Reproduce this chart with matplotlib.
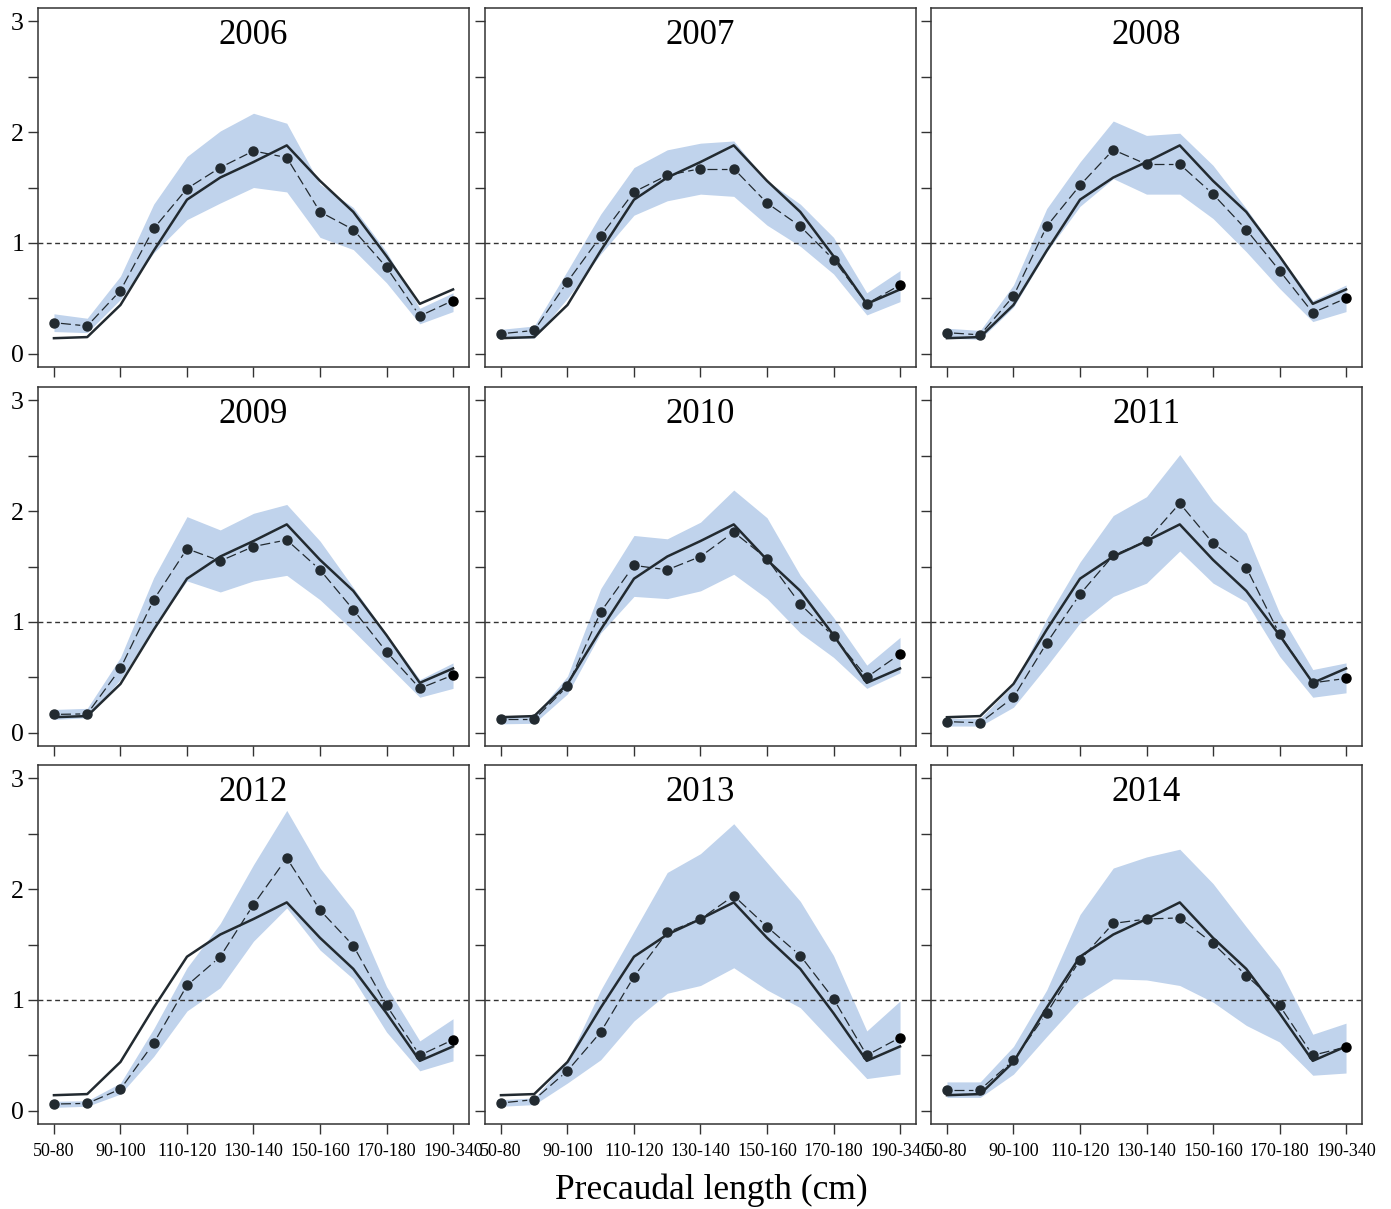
import numpy as np
import matplotlib
matplotlib.use("Agg")
import matplotlib.pyplot as plt
from matplotlib.transforms import ScaledTranslation

plt.rcParams["font.family"] = ["Liberation Serif", "DejaVu Serif"]

length_classes = ["50-80", "80-90", "90-100", "100-110", "110-120", "120-130",
                  "130-140", "140-150", "150-160", "160-170", "170-180",
                  "180-190", "190-340"]

years = [2006, 2007, 2008, 2009, 2010, 2011, 2012, 2013, 2014]

# fitted curve (same in every panel)
model = [0.14, 0.15, 0.44, 0.93, 1.39, 1.59, 1.73, 1.88, 1.56, 1.28, 0.88, 0.45, 0.58]

obs_2006 = [0.28, 0.25, 0.57, 1.13, 1.49, 1.68, 1.83, 1.77, 1.28, 1.12, 0.78, 0.34, 0.48]
hi_2006 = [0.36, 0.32, 0.70, 1.35, 1.78, 2.01, 2.17, 2.08, 1.53, 1.32, 0.92, 0.41, 0.55]
lo_2006 = [0.20, 0.19, 0.49, 0.91, 1.21, 1.36, 1.50, 1.46, 1.05, 0.94, 0.64, 0.27, 0.38]

obs_2007 = [0.18, 0.21, 0.65, 1.06, 1.46, 1.61, 1.67, 1.67, 1.36, 1.15, 0.85, 0.45, 0.62]
hi_2007 = [0.22, 0.25, 0.75, 1.26, 1.68, 1.84, 1.90, 1.92, 1.56, 1.35, 1.05, 0.55, 0.75]
lo_2007 = [0.14, 0.14, 0.50, 0.90, 1.25, 1.38, 1.44, 1.42, 1.16, 0.97, 0.72, 0.35, 0.47]

obs_2008 = [0.19, 0.17, 0.52, 1.15, 1.52, 1.84, 1.71, 1.71, 1.44, 1.12, 0.75, 0.37, 0.50]
hi_2008 = [0.23, 0.21, 0.62, 1.31, 1.73, 2.10, 1.97, 1.99, 1.70, 1.31, 0.89, 0.48, 0.62]
lo_2008 = [0.14, 0.13, 0.42, 0.92, 1.33, 1.58, 1.44, 1.44, 1.22, 0.92, 0.59, 0.29, 0.38]

obs_2009 = [0.165, 0.17, 0.58, 1.20, 1.66, 1.55, 1.68, 1.74, 1.47, 1.11, 0.73, 0.40, 0.52]
hi_2009 = [0.21, 0.22, 0.68, 1.40, 1.95, 1.83, 1.98, 2.06, 1.73, 1.31, 0.89, 0.48, 0.63]
lo_2009 = [0.12, 0.135, 0.48, 0.95, 1.37, 1.27, 1.37, 1.42, 1.20, 0.92, 0.62, 0.32, 0.40]

obs_2010 = [0.12, 0.12, 0.42, 1.09, 1.51, 1.47, 1.59, 1.81, 1.57, 1.16, 0.87, 0.50, 0.71]
hi_2010 = [0.15, 0.15, 0.51, 1.30, 1.78, 1.75, 1.90, 2.19, 1.94, 1.42, 1.04, 0.61, 0.86]
lo_2010 = [0.08, 0.085, 0.35, 0.90, 1.23, 1.21, 1.28, 1.43, 1.21, 0.90, 0.68, 0.40, 0.54]

obs_2011 = [0.10, 0.09, 0.32, 0.81, 1.25, 1.60, 1.73, 2.07, 1.71, 1.49, 0.89, 0.45, 0.49]
hi_2011 = [0.13, 0.13, 0.43, 1.03, 1.54, 1.96, 2.13, 2.51, 2.09, 1.80, 1.08, 0.57, 0.63]
lo_2011 = [0.06, 0.06, 0.23, 0.60, 0.99, 1.23, 1.35, 1.64, 1.35, 1.18, 0.69, 0.32, 0.36]

obs_2012 = [0.06, 0.066, 0.195, 0.61, 1.13, 1.39, 1.86, 2.28, 1.81, 1.49, 0.95, 0.50, 0.64]
hi_2012 = [0.085, 0.09, 0.25, 0.74, 1.29, 1.69, 2.22, 2.71, 2.19, 1.81, 1.12, 0.63, 0.83]
lo_2012 = [0.03, 0.04, 0.15, 0.49, 0.90, 1.11, 1.53, 1.83, 1.45, 1.19, 0.71, 0.36, 0.45]

obs_2013 = [0.07, 0.10, 0.36, 0.71, 1.21, 1.61, 1.73, 1.94, 1.66, 1.40, 1.01, 0.50, 0.66]
hi_2013 = [0.10, 0.115, 0.45, 1.09, 1.62, 2.15, 2.32, 2.59, 2.24, 1.89, 1.40, 0.72, 0.99]
lo_2013 = [0.04, 0.055, 0.25, 0.46, 0.81, 1.06, 1.13, 1.29, 1.09, 0.93, 0.61, 0.29, 0.33]

obs_2014 = [0.19, 0.19, 0.455, 0.88, 1.36, 1.69, 1.73, 1.74, 1.51, 1.22, 0.95, 0.50, 0.575]
hi_2014 = [0.26, 0.26, 0.58, 1.09, 1.77, 2.19, 2.29, 2.36, 2.05, 1.66, 1.28, 0.69, 0.79]
lo_2014 = [0.12, 0.12, 0.33, 0.67, 1.00, 1.19, 1.18, 1.13, 0.98, 0.77, 0.62, 0.32, 0.34]

observed = [obs_2006, obs_2007, obs_2008, obs_2009, obs_2010, obs_2011, obs_2012, obs_2013, obs_2014]
upper = [hi_2006, hi_2007, hi_2008, hi_2009, hi_2010, hi_2011, hi_2012, hi_2013, hi_2014]
lower = [lo_2006, lo_2007, lo_2008, lo_2009, lo_2010, lo_2011, lo_2012, lo_2013, lo_2014]

W, H = 1391, 1209
fig = plt.figure(figsize=(W / 100, H / 100), dpi=100)

col_left = [38, 485, 931]
row_top = [8, 387, 765]
box_w = 431
box_h = 359

band_color = "#c0d3ec"
dark = "#222a30"
x = np.arange(len(length_classes))


def gapped_line(ax, xs, ys, gap_px=7):
    # R type="b": line segments stop short of each point
    trans = ax.transData
    inv = trans.inverted()
    pts = trans.transform(np.column_stack([xs, ys]))
    for p0, p1 in zip(pts[:-1], pts[1:]):
        d = p1 - p0
        L = np.hypot(*d)
        if L <= 2 * gap_px:
            continue
        u = d / L
        a = inv.transform(p0 + u * gap_px)
        b = inv.transform(p1 - u * gap_px)
        ax.plot([a[0], b[0]], [a[1], b[1]], color=dark, lw=0.9,
                dashes=(8, 3.5), zorder=4)


for i, year in enumerate(years):
    r, c = divmod(i, 3)
    left = col_left[c] / W
    bottom = 1 - (row_top[r] + box_h) / H
    ax = fig.add_axes([left, bottom, box_w / W, box_h / H])
    ax.set_xlim(-0.48, 12.48)
    ax.set_ylim(-0.12, 3.12)

    ax.fill_between(x, lower[i], upper[i], color=band_color, lw=0, zorder=1)
    ax.axhline(1, color="#333333", lw=1, dashes=(3.5, 2.5), zorder=2)
    ax.plot(x, model, color=dark, lw=1.8, zorder=3)
    gapped_line(ax, x, observed[i])
    ax.plot(x[:-1], observed[i][:-1], "o", color=dark, ms=6.5, zorder=5)
    ax.plot(x[-1:], observed[i][-1:], "o", color="black", ms=6.5, zorder=5)

    ax.text(0.5, 0.968, str(year), transform=ax.transAxes, ha="center",
            va="top", fontsize=25)

    ax.set_xticks(x[::2])
    if r == 2:
        ax.set_xticklabels(length_classes[::2], fontsize=13)
        labs = ax.get_xticklabels()
        labs[0].set_transform(labs[0].get_transform() +
                              ScaledTranslation(3 / 100, -2 / 100, fig.dpi_scale_trans))
        labs[-1].set_transform(labs[-1].get_transform() +
                               ScaledTranslation(-12 / 100, 0, fig.dpi_scale_trans))
    else:
        ax.set_xticklabels([])

    ax.set_yticks(np.arange(0, 3.01, 0.5))
    if c == 0:
        ax.set_yticklabels(["0", "", "1", "", "2", "", "3"], fontsize=18.5)
    else:
        ax.set_yticklabels([])

    ax.tick_params(direction="out", length=7, width=1, color="#333333",
                   pad=3)
    ax.tick_params(axis="x", pad=7)
    for s in ax.spines.values():
        s.set_color("#333333")
        s.set_linewidth(1.1)

fig.text(711 / W, 1 - 1190 / H, "Precaudal length (cm)", ha="center",
         va="center", fontsize=25.5)

fig.savefig("out.png", dpi=100)
